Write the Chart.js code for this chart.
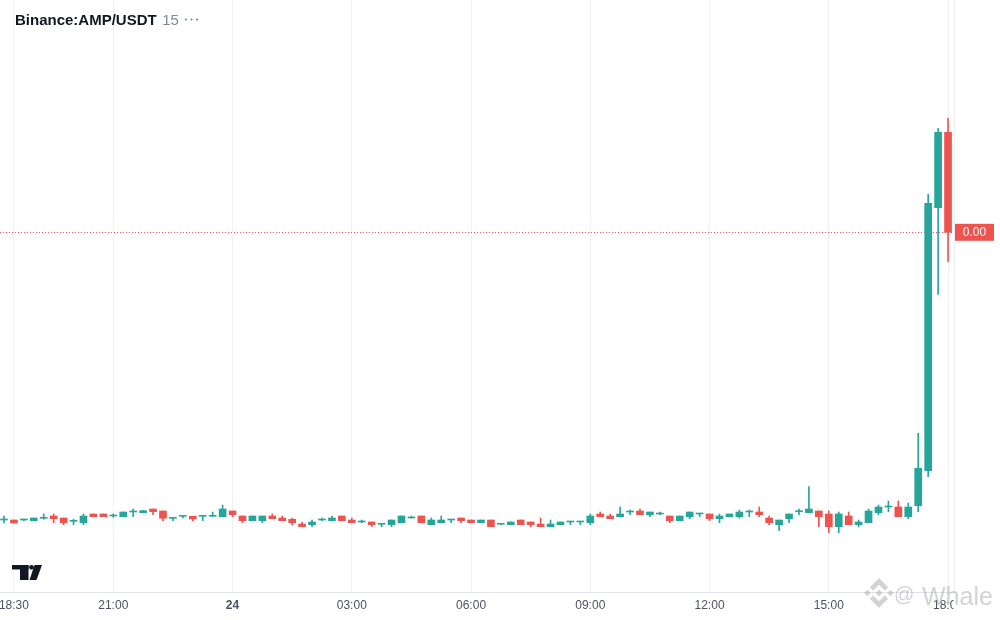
<!DOCTYPE html>
<html>
<head>
<meta charset="utf-8">
<style>
  html, body { margin: 0; padding: 0; background: #fff; }
  #wrap { width: 1000px; height: 620px; }
</style>
</head>
<body>
<div id="wrap"><canvas id="chart"></canvas></div>
<script src="https://cdn.jsdelivr.net/npm/chart.js@4"></script>
<script>
// Binance:AMP/USDT, 15m candles from 18:15 to 18:00 next day
// prices are kept in units of 1e-5 USDT
const PRICE_UNIT = 1e-5;

const open = [
  80, 80, 80, 79.3, 81.7, 84, 82, 78.7, 77.3, 86, 86, 84,
  83.3, 88, 87.3, 91, 89, 81.7, 83.7, 83.7, 83.7, 83.7, 83.3, 89,
  84, 79.3, 79.3, 84, 82, 80.7, 76, 75.3, 80, 79.3, 84, 80,
  78, 78, 75.7, 75.3, 77.3, 82, 84, 75.3, 77.3, 80, 82, 80,
  77.3, 80, 75.7, 75.3, 80, 78, 76, 73.3, 75.3, 78, 78, 77.3,
  86, 84, 83.3, 88, 89, 85.3, 86, 84, 79.3, 83.3, 86, 86,
  81.3, 83.3, 83.3, 88, 88, 82, 75.3, 81.3, 88.3, 87.3, 89, 86,
  73.3, 84, 75.3, 77.3, 87.3, 93, 93, 83.3, 94.3, 129.3, 392.3, 467.7
];
const high = [
  84, 80, 81, 82, 86, 86, 82, 80.7, 86, 86, 86, 86,
  88, 91, 89.3, 91, 89, 81.7, 83.7, 83.7, 83.7, 88, 95, 89,
  84, 84, 84, 86, 84, 82, 78, 80, 82, 84, 84, 82,
  80, 78, 75.7, 80, 84, 84, 84, 82, 84, 80, 82, 80,
  80, 80, 75.7, 78, 80, 78, 82, 80, 78, 78, 78, 86,
  88, 86, 93, 90, 91, 88, 88, 84, 84, 88, 86, 86,
  86, 86, 90, 90, 93, 84, 80, 86, 91, 113.3, 89, 89,
  88, 88, 80, 91, 95, 99, 99, 97, 166.7, 405.7, 471.7, 481.7
];
const low = [
  77, 77, 79, 79.3, 80.7, 77.3, 75.3, 75.3, 75.3, 83.3, 83.3, 82.7,
  83.3, 83.3, 87.3, 85.3, 79.3, 79.3, 82, 79.3, 79.3, 83.7, 83.3, 83.3,
  77.3, 79.3, 77.3, 81.3, 79.3, 75.3, 73.3, 73.3, 79.3, 79.3, 79.3, 77.3,
  77.3, 73.3, 73.3, 73.3, 77.3, 82, 77.3, 75.3, 77.3, 77.3, 77.3, 77.3,
  77.3, 73.3, 75.7, 75.3, 75.3, 73.3, 73.3, 73.3, 75.3, 75.3, 75.3, 75.3,
  83.3, 81.3, 83.3, 85.3, 85.3, 83.3, 85.3, 77.3, 79.3, 81.3, 83.3, 79.3,
  77.3, 83.3, 82, 83.3, 83.3, 75.3, 69.3, 77.3, 85.3, 87.3, 73.3, 67.3,
  67.3, 75.3, 73.3, 77.3, 85.3, 88.3, 83.3, 81.3, 88.3, 123.3, 305.7, 338.3
];
const close = [
  80, 77, 80.5, 82, 81.7, 81.3, 77.3, 78.7, 84, 83.3, 83.3, 84,
  88, 88, 89.3, 88.3, 81.7, 81.7, 83.7, 81, 83.7, 83.7, 91, 85.3,
  79.3, 84, 84, 81.3, 79.3, 77.3, 73.3, 78, 80, 82, 79.3, 77.3,
  78, 75.3, 75.7, 80, 84, 82, 77.3, 80, 80, 80, 79.3, 77.3,
  80, 73.3, 75.7, 78, 75.3, 75.3, 73.3, 76, 78, 78, 78, 84,
  83.3, 81.3, 86, 88, 85.3, 88, 86, 79.3, 84, 88, 86, 81.3,
  84, 86, 88, 88, 85.3, 77.3, 80, 86, 88.3, 91, 83.3, 73.3,
  86, 75.3, 78, 89, 93, 93, 83.3, 93, 131.7, 396.7, 467.7, 367.7
];

// candle index of each time-axis label
const tickIndex = [1, 11, 23, 35, 47, 59, 71, 83, 95];
const tickLabels = ['18:30', '21:00', '24', '03:00', '06:00', '09:00', '12:00', '15:00', '18:00'];

const UP = '#26a69a';
const DOWN = '#ef5350';
const FONT = "'Liberation Sans', Arial, sans-serif";
Chart.defaults.font.family = FONT;

const colors = close.map((c, i) => (c >= open[i] ? UP : DOWN));
const wicks = low.map((l, i) => ({ x: i, y: [l, high[i]] }));
const bodies = open.map((o, i) => ({ x: i, y: [o, close[i]] }));

function polygon(ctx, pts, ox, oy, s) {
  ctx.beginPath();
  pts.forEach((p, i) => {
    const x = ox + p[0] * s, y = oy + p[1] * s;
    if (i === 0) ctx.moveTo(x, y); else ctx.lineTo(x, y);
  });
  ctx.closePath();
  ctx.fill();
}

const decor = {
  id: 'decor',
  beforeDraw(chart) {
    const ctx = chart.ctx;
    ctx.save();
    ctx.fillStyle = '#ffffff';
    ctx.fillRect(0, 0, chart.width, chart.height);
    ctx.restore();
  },
  beforeDatasetsDraw(chart) {
    const { ctx, chartArea } = chart;
    const py = Math.round(chart.scales.y.getPixelForValue(close[close.length - 1])) + 0.5;
    ctx.save();
    // pane border
    ctx.strokeStyle = '#eceef2';
    ctx.lineWidth = 1;
    ctx.beginPath();
    ctx.moveTo(Math.round(chartArea.right) + 0.5, 0);
    ctx.lineTo(Math.round(chartArea.right) + 0.5, chartArea.bottom);
    ctx.stroke();
    // last price line
    ctx.strokeStyle = DOWN;
    ctx.setLineDash([1, 2]);
    ctx.beginPath();
    ctx.moveTo(chartArea.left, py);
    ctx.lineTo(chartArea.right, py);
    ctx.stroke();
    ctx.restore();
  },
  afterDraw(chart) {
    const { ctx, chartArea } = chart;
    const last = close[close.length - 1];
    const py = chart.scales.y.getPixelForValue(last);
    ctx.save();

    // last price label
    ctx.fillStyle = DOWN;
    ctx.fillRect(chartArea.right + 1, py - 8.5, 39, 17);
    ctx.fillStyle = '#ffffff';
    ctx.font = '12px ' + FONT;
    ctx.textAlign = 'center';
    ctx.textBaseline = 'middle';
    ctx.fillText((last * PRICE_UNIT).toFixed(2), chartArea.right + 20.5, py + 0.5);

    // time labels are clipped at the pane edge
    ctx.fillStyle = '#ffffff';
    ctx.fillRect(chartArea.right - 0.5, chartArea.bottom + 2, 60, 24);

    // header
    ctx.textAlign = 'left';
    ctx.textBaseline = 'alphabetic';
    ctx.fillStyle = '#131722';
    ctx.font = 'bold 15px ' + FONT;
    const title = 'Binance:AMP/USDT';
    ctx.fillText(title, 15, 24.5);
    const tx = 15 + ctx.measureText(title).width + 5.5;
    ctx.fillStyle = '#7b8aa3';
    ctx.font = '15px ' + FONT;
    ctx.fillText('15', tx, 24.5);
    [186, 191.5, 197].forEach(x => {
      ctx.beginPath();
      ctx.arc(x, 19.5, 1.1, 0, Math.PI * 2);
      ctx.fill();
    });

    // TradingView logo
    ctx.fillStyle = '#131722';
    ctx.fillRect(12, 565, 16.5, 4.5);
    ctx.fillRect(20, 565, 8.5, 15);
    ctx.beginPath();
    ctx.arc(31.5, 567.3, 2.4, 0, Math.PI * 2);
    ctx.fill();
    ctx.beginPath();
    ctx.moveTo(34.5, 565);
    ctx.lineTo(42, 565);
    ctx.lineTo(36.5, 580);
    ctx.lineTo(29.5, 580);
    ctx.closePath();
    ctx.fill();

    // watermark
    ctx.fillStyle = 'rgba(175,175,175,0.55)';
    const s = 0.235, ox = 879 - 63.3 * s, oy = 593 - 63.3 * s;
    polygon(ctx, [[38.7, 53.2], [63.3, 28.6], [87.9, 53.2], [102.2, 38.9], [63.3, 0], [24.4, 38.9]], ox, oy, s);
    polygon(ctx, [[0, 63.3], [14.3, 49], [28.6, 63.3], [14.3, 77.6]], ox, oy, s);
    polygon(ctx, [[38.7, 73.4], [63.3, 98], [87.9, 73.4], [102.2, 87.7], [63.3, 126.6], [24.4, 87.7]], ox, oy, s);
    polygon(ctx, [[98, 63.3], [112.3, 49], [126.6, 63.3], [112.3, 77.6]], ox, oy, s);
    polygon(ctx, [[77.8, 63.3], [63.3, 48.8], [48.8, 63.3], [63.3, 77.8]], ox, oy, s);
    ctx.font = '20px ' + FONT;
    ctx.fillText('@', 894, 601);
    ctx.font = '25px ' + FONT;
    ctx.fillText('Whale', 922, 605);

    ctx.restore();
  }
};

new Chart(document.getElementById('chart'), {
  type: 'bar',
  data: {
    datasets: [
      {
        data: bodies,
        backgroundColor: colors,
        barThickness: 7,
        minBarLength: 1,
        grouped: false,
        borderWidth: 0,
        borderSkipped: false,
        order: 1
      },
      {
        data: wicks,
        backgroundColor: colors,
        barThickness: 1,
        minBarLength: 1,
        grouped: false,
        borderWidth: 0,
        borderSkipped: false,
        order: 2
      }
    ]
  },
  options: {
    responsive: true,
    maintainAspectRatio: false,
    animation: false,
    layout: { padding: { left: 0, right: 46, top: 0, bottom: 1.6 } },
    plugins: {
      legend: { display: false },
      tooltip: { enabled: false }
    },
    scales: {
      x: {
        type: 'linear',
        min: -0.4,
        max: 95.6,
        offset: false,
        grid: { offset: false, color: '#f0f1f3', drawTicks: false },
        border: { display: true, color: '#e0e3eb' },
        afterBuildTicks(scale) {
          scale.ticks = tickIndex.map(v => ({ value: v }));
        },
        afterFit(scale) {
          scale.paddingLeft = 0;
          scale.paddingRight = 0;
        },
        ticks: {
          padding: 6,
          color: '#4c525e',
          maxRotation: 0,
          autoSkip: false,
          font: c => ({ size: 12, family: FONT, weight: c.tick && c.tick.value === 23 ? 'bold' : 'normal' }),
          callback: v => tickLabels[tickIndex.indexOf(v)]
        }
      },
      y: {
        type: 'linear',
        display: false,
        min: 8,
        max: 600,
        beginAtZero: false
      }
    }
  },
  plugins: [decor]
});
</script>
</body>
</html>
